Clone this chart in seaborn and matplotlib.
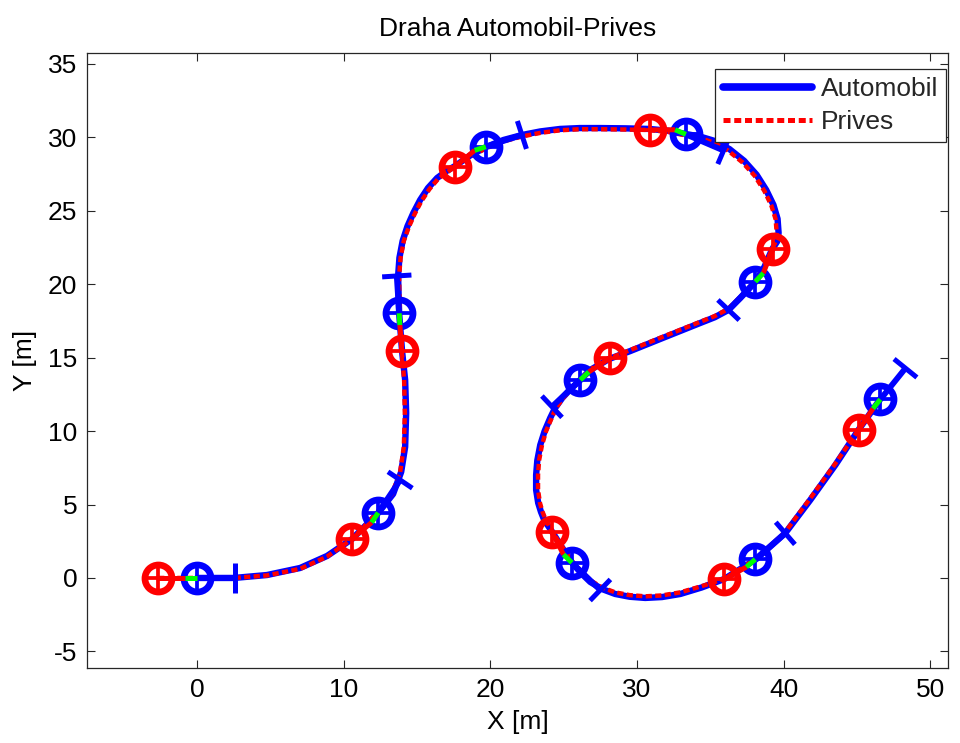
import numpy as np
import matplotlib
matplotlib.use("Agg")
import matplotlib.pyplot as plt
import seaborn as sns

# Car (rear axle) trajectory [m]
auto_x = [0.00, 2.52, 4.77, 7.03, 8.87, 10.57, 12.35, 13.37, 13.92, 14.19, 14.26,
          14.19, 13.98, 13.78, 13.71, 13.80, 14.02, 14.35, 14.75, 15.21, 15.75,
          16.37, 17.00, 17.60, 18.60, 19.71, 20.90, 22.17, 23.40, 24.76, 26.10,
          27.49, 29.20, 30.83, 32.10, 33.36, 34.30, 35.20, 36.30, 37.30, 38.15,
          38.81, 39.30, 39.58, 39.65, 39.55, 39.22, 38.68, 38.06, 37.04, 36.22,
          35.30, 34.31, 31.58, 29.54, 28.10, 26.81, 26.13, 25.45, 24.90, 24.40,
          24.08, 23.70, 23.40, 23.20, 23.12, 23.12, 23.26, 23.45, 23.67, 24.22,
          24.90, 25.58, 26.20, 26.81, 27.60, 28.51, 29.50, 30.56, 31.70, 32.95,
          34.40, 35.95, 38.13, 40.11, 41.81, 43.52, 45.09, 46.59]
auto_y = [0.00, 0.00, 0.20, 0.68, 1.50, 2.65, 4.42, 5.72, 7.22, 8.92, 11.23,
          13.48, 15.45, 18.04, 20.56, 21.80, 22.95, 23.95, 24.85, 25.73, 26.55,
          27.23, 27.70, 28.05, 28.75, 29.34, 29.82, 30.16, 30.40, 30.57, 30.63,
          30.63, 30.61, 30.57, 30.45, 30.22, 30.05, 29.78, 29.20, 28.40, 27.45,
          26.41, 25.40, 24.45, 23.50, 22.90, 22.40, 21.17, 20.15, 19.06, 18.24,
          17.75, 17.36, 16.27, 15.45, 14.91, 14.16, 13.48, 12.85, 12.25, 11.55,
          10.89, 10.00, 9.05, 8.00, 7.01, 6.00, 5.11, 4.50, 3.95, 3.13,
          2.05, 1.02, 0.32, -0.27, -0.75, -1.09, -1.28, -1.36, -1.30, -1.09,
          -0.65, -0.07, 1.29, 3.06, 5.31, 7.69, 10.07, 12.19]

# Trailer axle trajectory [m]
prives_x = [-2.65, 0.00, 2.52, 4.77, 7.03, 8.85, 10.57, 12.30, 13.30, 13.85, 14.10,
            14.17, 14.12, 13.96, 13.80, 13.78, 13.88, 14.10, 14.45, 14.85, 15.30,
            15.85, 16.45, 17.05, 17.60, 18.60, 19.71, 20.90, 22.17, 23.40, 24.76,
            26.10, 27.49, 29.20, 30.83, 32.10, 33.36, 34.25, 35.12, 36.20, 37.18,
            38.02, 38.68, 39.16, 39.45, 39.52, 39.45, 39.22, 38.65, 38.00, 37.02,
            36.22, 35.30, 34.31, 31.58, 29.54, 28.10, 26.85, 26.18, 25.52, 24.98,
            24.48, 24.18, 23.80, 23.52, 23.32, 23.25, 23.25, 23.38, 23.55, 23.77,
            24.22, 24.92, 25.60, 26.22, 26.85, 27.62, 28.51, 29.50, 30.56, 31.70,
            32.95, 34.40, 35.95, 38.10, 40.05, 41.73, 43.45, 45.09]
prives_y = [0.00, 0.00, 0.00, 0.17, 0.62, 1.44, 2.65, 4.45, 5.75, 7.22, 8.92,
            11.23, 13.48, 15.45, 18.04, 20.56, 21.80, 22.95, 23.92, 24.80, 25.66,
            26.48, 27.18, 27.62, 28.00, 28.68, 29.25, 29.73, 30.06, 30.30, 30.48,
            30.55, 30.55, 30.53, 30.50, 30.37, 30.12, 29.95, 29.68, 29.10, 28.30,
            27.38, 26.35, 25.35, 24.42, 23.50, 22.90, 22.40, 21.17, 20.15, 19.10,
            18.32, 17.83, 17.44, 16.35, 15.52, 14.95, 14.22, 13.52, 12.88, 12.28,
            11.58, 10.89, 10.00, 9.05, 8.00, 7.01, 6.00, 5.11, 4.52, 3.97,
            3.13, 2.10, 1.10, 0.42, -0.18, -0.65, -0.98, -1.17, -1.25, -1.19,
            -0.98, -0.56, -0.07, 1.29, 3.06, 5.31, 7.69, 10.07]

# Snapshots: car rear axle, car front axle, trailer axle [m]
car_x = [0.00, 12.35, 13.78, 19.69, 33.33, 38.06, 26.13, 25.56, 38.06, 46.59]
car_y = [0.00, 4.44, 18.02, 29.36, 30.20, 20.17, 13.48, 1.04, 1.27, 12.16]
front_x = [2.60, 13.85, 13.62, 22.15, 35.90, 36.24, 24.20, 27.49, 40.11, 48.30]
front_y = [0.00, 6.67, 20.56, 30.16, 29.10, 18.24, 11.66, -0.82, 3.04, 14.28]
trailer_x = [-2.65, 10.55, 13.96, 17.60, 30.85, 39.24, 28.13, 24.20, 35.95, 45.11]
trailer_y = [0.00, 2.65, 15.47, 28.00, 30.50, 22.40, 14.95, 3.15, -0.09, 10.07]

HITCH_OFFSET = 0.8   # hitch distance behind rear axle [m]
AXLE_HALF = 1.0      # half width of front axle bar [m]

sns.set_theme(style="white")
plt.rcParams["font.family"] = ["Liberation Sans", "DejaVu Sans"]
plt.rcParams["axes.unicode_minus"] = False

fig = plt.figure(figsize=(9.6, 7.43), dpi=100)
ax = fig.add_axes([87 / 960, 1 - 668 / 743, (948 - 87) / 960, (668 - 53) / 743])

BLUE = "#0000ff"
RED = "#ff0000"
GREEN = "#00ff00"

# trajectories
sns.lineplot(x=auto_x, y=auto_y, sort=False, estimator=None, color=BLUE,
             linewidth=4.6, label="Automobil", ax=ax, zorder=2,
             solid_joinstyle="round")
sns.lineplot(x=prives_x, y=prives_y, sort=False, estimator=None, color=RED,
             linewidth=3.2, label="Prives", ax=ax, zorder=2.5)
ax.lines[1].set_dashes((1.4, 0.75))
ax.lines[1].set_dash_capstyle("butt")
ax.lines[1].set_dash_joinstyle("round")

# vehicle snapshots
cx, cy = np.array(car_x), np.array(car_y)
fx, fy = np.array(front_x), np.array(front_y)
tx, ty = np.array(trailer_x), np.array(trailer_y)
dx, dy = fx - cx, fy - cy
ln = np.hypot(dx, dy)
ux, uy = dx / ln, dy / ln
hx, hy = cx - HITCH_OFFSET * ux, cy - HITCH_OFFSET * uy

for i in range(len(car_x)):
    # car body and front axle
    ax.plot([cx[i], fx[i]], [cy[i], fy[i]], color=BLUE, lw=4.2,
            solid_capstyle="butt", zorder=3)
    ax.plot([fx[i] - AXLE_HALF * uy[i], fx[i] + AXLE_HALF * uy[i]],
            [fy[i] + AXLE_HALF * ux[i], fy[i] - AXLE_HALF * ux[i]],
            color=BLUE, lw=3.6, solid_capstyle="butt", zorder=3)

# wheels (axles)
for px, py, col in ((cx, cy, BLUE), (tx, ty, RED)):
    ax.plot(px, py, linestyle="none", marker="o", ms=19.5, mew=4.8,
            mfc="none", mec=col, zorder=4)
    ax.plot(px, py, linestyle="none", marker="+", ms=15.5, mew=2.7,
            mec=col, zorder=4)

for i in range(len(car_x)):
    # trailer drawbar and hitch
    ax.plot([tx[i], hx[i]], [ty[i], hy[i]], color=RED, lw=3.6,
            solid_capstyle="butt", zorder=5)
    ax.plot([hx[i], cx[i]], [hy[i], cy[i]], color=GREEN, lw=3.6,
            solid_capstyle="butt", zorder=6)

ax.set_xlim(-7.5, 51.2)
ax.set_ylim(-6.13, 35.74)
ax.set_xticks([0, 10, 20, 30, 40, 50])
ax.set_yticks([-5, 0, 5, 10, 15, 20, 25, 30, 35])
ax.tick_params(direction="in", length=6, width=0.8, colors="#262626",
               labelsize=19, labelcolor="black", top=True, right=True,
               bottom=True, left=True, pad=7)
for s in ax.spines.values():
    s.set_color("#262626")
    s.set_linewidth(0.9)

ax.set_title("Draha Automobil-Prives", fontsize=19, pad=12, color="black")
ax.set_xlabel("X [m]", fontsize=19, color="black", labelpad=6)
ax.set_ylabel("Y [m]", fontsize=19, color="black", labelpad=8)

leg = ax.legend(loc="upper right", bbox_to_anchor=(0.998, 0.974), fontsize=19,
                frameon=True, fancybox=False, framealpha=1, edgecolor="#262626",
                handlelength=3.35, handletextpad=0.35, labelspacing=0.34,
                borderpad=0.3, borderaxespad=0)
leg.get_frame().set_linewidth(0.9)
leg.legend_handles[0].set_linewidth(5.5)
leg.legend_handles[1].set_linewidth(3.6)
leg.legend_handles[1].set_dashes((1.4, 0.75))

fig.savefig("out.png", dpi=100)
